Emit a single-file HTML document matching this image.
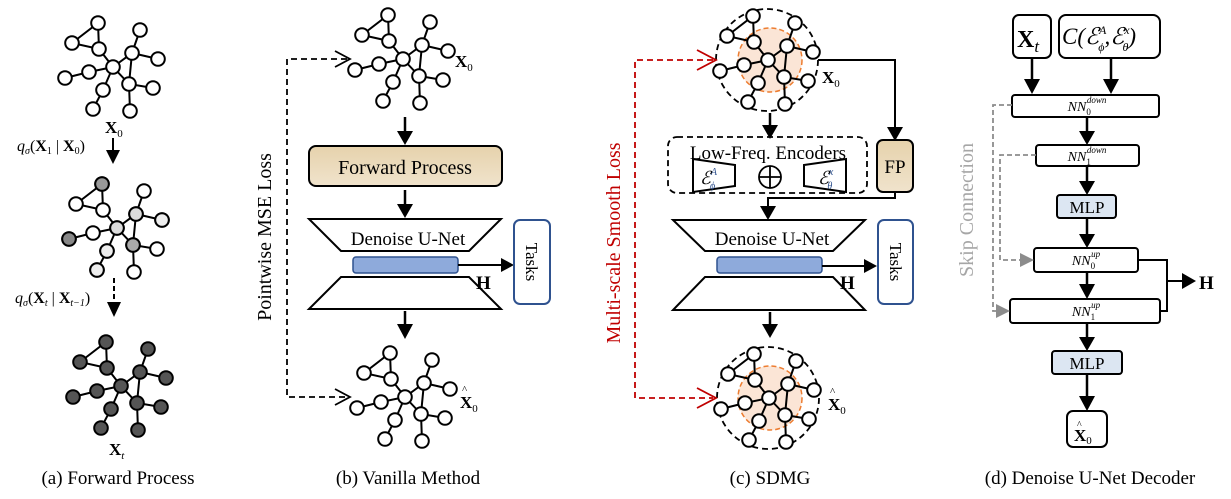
<!DOCTYPE html>
<html><head><meta charset="utf-8"><style>
html,body{margin:0;padding:0;background:#fff}
svg{display:block}
text{font-family:"Liberation Serif",serif;fill:#000}
</style></head><body>
<svg width="1231" height="499" viewBox="0 0 1231 499" xmlns="http://www.w3.org/2000/svg">
<defs>
<g id="gr" stroke="#000" stroke-width="2">
<path d="M-41,-24L-15,-44L-14,-18ZM-14,-18L0,0M-48,11L-24,5L0,0M0,0L-10,23L-20,42M0,0L19,-14L27,-37M19,-14L45,-8M19,-14L16,17M0,0L16,17L40,21M16,17L17,44" fill="none"/>
<circle cx="-15" cy="-44" r="6.8"/><circle cx="-41" cy="-24" r="6.8"/><circle cx="-14" cy="-18" r="6.8"/>
<circle cx="-24" cy="5" r="6.8"/><circle cx="-48" cy="11" r="6.8"/><circle cx="-10" cy="23" r="6.8"/>
<circle cx="-20" cy="42" r="6.8"/><circle cx="19" cy="-14" r="6.8"/><circle cx="27" cy="-37" r="6.8"/>
<circle cx="45" cy="-8" r="6.8"/><circle cx="16" cy="17" r="6.8"/><circle cx="40" cy="21" r="6.8"/>
<circle cx="17" cy="44" r="6.8"/><circle cx="0" cy="0" r="6.8"/>
</g>
<linearGradient id="tan" x1="0" y1="0" x2="0" y2="1"><stop offset="0" stop-color="#e6d2ac"/><stop offset="1" stop-color="#f0e3cc"/></linearGradient>
</defs>

<!-- Panel a -->
<use href="#gr" x="113" y="67" fill="#fff"/>
<g transform="translate(117,228)">
<use href="#gr" fill="#fff"/>
<g stroke="#000" stroke-width="2">
<circle cx="-15" cy="-44" r="6.8" fill="#999"/><circle cx="-48" cy="11" r="6.8" fill="#888"/>
<circle cx="16" cy="17" r="6.8" fill="#aaa"/><circle cx="19" cy="-14" r="6.8" fill="#ddd"/>
<circle cx="0" cy="0" r="6.8" fill="#ddd"/><circle cx="-10" cy="23" r="6.8" fill="#eee"/>
<circle cx="-20" cy="42" r="6.8" fill="#eee"/><circle cx="45" cy="-8" r="6.8" fill="#eee"/>
</g></g>
<use href="#gr" x="121" y="386" fill="#555"/>
<text x="105" y="133" font-size="17" font-weight="bold">X<tspan font-size="11" font-weight="normal" dy="4">0</tspan></text>
<text x="17" y="151" font-size="16"><tspan font-style="italic">q</tspan><tspan font-size="10" font-style="italic" dy="3">σ</tspan><tspan dy="-3">(</tspan><tspan font-weight="bold">X</tspan><tspan font-size="10" dy="3">1</tspan><tspan dy="-3"> | </tspan><tspan font-weight="bold">X</tspan><tspan font-size="10" dy="3">0</tspan><tspan dy="-3">)</tspan></text>
<line x1="113" y1="138" x2="113" y2="152" stroke="#000" stroke-width="2"/>
<path d="M106,150L120,150L113,164Z"/>
<text x="15" y="303" font-size="16"><tspan font-style="italic">q</tspan><tspan font-size="10" font-style="italic" dy="3">σ</tspan><tspan dy="-3">(</tspan><tspan font-weight="bold">X</tspan><tspan font-size="10" font-style="italic" dy="3">t</tspan><tspan dy="-3"> | </tspan><tspan font-weight="bold">X</tspan><tspan font-size="10" font-style="italic" dy="3">t−1</tspan><tspan dy="-3">)</tspan></text>
<line x1="114" y1="278" x2="114" y2="304" stroke="#000" stroke-width="2" stroke-dasharray="5,3"/>
<path d="M107,302L121,302L114,317Z"/>
<text x="109" y="455" font-size="17" font-weight="bold">X<tspan font-size="11" font-weight="normal" font-style="italic" dy="4">t</tspan></text>
<text x="118" y="484" font-size="19" text-anchor="middle">(a) Forward  Process</text>

<!-- Panel b -->
<use href="#gr" x="403" y="59" fill="#fff"/>
<use href="#gr" x="405" y="397" fill="#fff"/>
<text x="455" y="67" font-size="17" font-weight="bold">X<tspan font-size="11" font-weight="normal" dy="4">0</tspan></text>
<text x="460" y="408" font-size="17" font-weight="bold">X<tspan font-size="11" font-weight="normal" dy="4">0</tspan></text>
<text x="462" y="393" font-size="11">^</text>
<g stroke="#000" stroke-width="2.5">
<line x1="405" y1="117" x2="405" y2="132"/><line x1="405" y1="190" x2="405" y2="205"/><line x1="405" y1="311" x2="405" y2="325"/>
</g>
<path d="M397,131L413,131L405,145Z M397,204L413,204L405,218Z M397,324L413,324L405,339Z"/>
<rect x="309" y="146" width="193" height="40" rx="7" fill="url(#tan)" stroke="#000" stroke-width="2"/>
<text x="405" y="174" font-size="20" text-anchor="middle">Forward  Process</text>
<path d="M309,219L501,219L469,251L341,251Z M341,277L469,277L501,309L309,309Z" fill="#fff" stroke="#000" stroke-width="2"/>
<text x="408" y="245" font-size="19" text-anchor="middle">Denoise U-Net</text>
<rect x="353" y="257" width="105" height="16" rx="3" fill="#8eaadb" stroke="#2f528f" stroke-width="1.5"/>
<line x1="458" y1="265" x2="503" y2="265" stroke="#000" stroke-width="2"/>
<path d="M501,258L514,265L501,272Z"/>
<text x="476" y="289" font-size="19" font-weight="bold">H</text>
<rect x="514" y="220" width="36" height="84" rx="6" fill="#fff" stroke="#2f528f" stroke-width="2"/>
<text transform="translate(526,262) rotate(90)" font-size="17" text-anchor="middle">Tasks</text>
<path d="M347,59L287,59L287,397L347,397" fill="none" stroke="#000" stroke-width="1.8" stroke-dasharray="6,4"/>
<path d="M335,51L350,59L335,67 M335,389L350,397L335,405" fill="none" stroke="#000" stroke-width="1.8"/>
<text transform="translate(271,237) rotate(-90)" font-size="20" text-anchor="middle">Pointwise MSE Loss</text>
<text x="408" y="484" font-size="19" text-anchor="middle">(b) Vanilla Method</text>

<!-- Panel c -->
<circle cx="770" cy="60" r="32" fill="#fbe5d6" stroke="#ed7d31" stroke-width="1.5" stroke-dasharray="5,3"/>
<circle cx="767" cy="60" r="51" fill="none" stroke="#000" stroke-width="1.8" stroke-dasharray="6,4"/>
<use href="#gr" x="768" y="60" fill="#fff"/>
<circle cx="770" cy="398" r="32" fill="#fbe5d6" stroke="#ed7d31" stroke-width="1.5" stroke-dasharray="5,3"/>
<circle cx="768" cy="398" r="51" fill="none" stroke="#000" stroke-width="1.8" stroke-dasharray="6,4"/>
<use href="#gr" x="769" y="398" fill="#fff"/>
<text x="822" y="83" font-size="17" font-weight="bold">X<tspan font-size="11" font-weight="normal" dy="4">0</tspan></text>
<text x="828" y="410" font-size="17" font-weight="bold">X<tspan font-size="11" font-weight="normal" dy="4">0</tspan></text>
<text x="830" y="395" font-size="11">^</text>
<path d="M818,60L895,60L895,128" fill="none" stroke="#000" stroke-width="2"/>
<path d="M887,127L903,127L895,141Z"/>
<rect x="877" y="140" width="36" height="52" rx="6" fill="url(#tan)" stroke="#000" stroke-width="2"/>
<text x="895" y="173" font-size="19" text-anchor="middle">FP</text>
<line x1="770" y1="113" x2="770" y2="126" stroke="#000" stroke-width="2.5"/>
<path d="M762,125L778,125L770,139Z"/>
<rect x="668" y="137" width="199" height="56" rx="9" fill="none" stroke="#000" stroke-width="1.8" stroke-dasharray="6,4"/>
<text x="768" y="159" font-size="19" text-anchor="middle">Low-Freq. Encoders</text>
<path d="M693,159L735,165L735,186L693,192Z M804,165L846,159L846,192L804,186Z" fill="#fff" stroke="#000" stroke-width="2"/>
<text x="700" y="184" font-size="18" font-style="italic">ℰ<tspan font-size="10" dy="-9" fill="#2f528f">A</tspan><tspan font-size="10" dx="-7" dy="14" fill="#2f528f">ϕ</tspan></text>
<text x="818" y="184" font-size="18" font-style="italic">ℰ<tspan font-size="10" dy="-9" fill="#2f528f">x</tspan><tspan font-size="10" dx="-6" dy="14" fill="#2f528f">θ</tspan></text>
<circle cx="770" cy="177" r="11" fill="#fff" stroke="#000" stroke-width="1.8"/>
<path d="M759,177L781,177M770,166L770,188" stroke="#000" stroke-width="1.8"/>
<path d="M895,192L895,198L768,198L768,207" fill="none" stroke="#000" stroke-width="2"/>
<path d="M760,206L776,206L768,220Z"/>
<path d="M673,220L865,220L833,251L705,251Z M705,277L833,277L865,310L673,310Z" fill="#fff" stroke="#000" stroke-width="2"/>
<text x="772" y="245" font-size="19" text-anchor="middle">Denoise U-Net</text>
<rect x="717" y="257" width="105" height="16" rx="3" fill="#8eaadb" stroke="#2f528f" stroke-width="1.5"/>
<line x1="822" y1="266" x2="866" y2="266" stroke="#000" stroke-width="2"/>
<path d="M864,259L877,266L864,273Z"/>
<text x="840" y="289" font-size="19" font-weight="bold">H</text>
<rect x="878" y="220" width="35" height="84" rx="6" fill="#fff" stroke="#2f528f" stroke-width="2"/>
<text transform="translate(890,262) rotate(90)" font-size="17" text-anchor="middle">Tasks</text>
<line x1="770" y1="312" x2="770" y2="325" stroke="#000" stroke-width="2.5"/>
<path d="M762,324L778,324L770,338Z"/>
<path d="M713,60L635,60L635,398L713,398" fill="none" stroke="#c00000" stroke-width="1.8" stroke-dasharray="6,4"/>
<path d="M697,50L716,60L697,70 M697,388L716,398L697,408" fill="none" stroke="#c00000" stroke-width="1.8"/>
<text transform="translate(620,243) rotate(-90)" font-size="20" text-anchor="middle" style="fill:#c00000">Multi-scale Smooth Loss</text>
<text x="770" y="484" font-size="19" text-anchor="middle">(c) SDMG</text>

<!-- Panel d -->
<g fill="#fff" stroke="#000" stroke-width="2">
<rect x="1013" y="15" width="38" height="43" rx="6"/>
<rect x="1059" y="15" width="101" height="43" rx="7"/>
<rect x="1012" y="95" width="147" height="22" rx="3"/>
<rect x="1036" y="145" width="103" height="21" rx="3"/>
<rect x="1057" y="195" width="59" height="23" rx="3" fill="#dce6f2"/>
<rect x="1034" y="248" width="104" height="24" rx="3"/>
<rect x="1010" y="299" width="150" height="24" rx="3"/>
<rect x="1052" y="351" width="70" height="23" rx="3" fill="#dce6f2"/>
<rect x="1067" y="411" width="40" height="36" rx="6"/>
</g>
<text x="1017" y="47" font-size="24" font-weight="bold">X<tspan font-size="17" font-weight="normal" font-style="italic" dy="5">t</tspan></text>
<text x="1062" y="44" font-size="23" font-style="italic">C(ℰ<tspan font-size="12" dy="-10">A</tspan><tspan font-size="12" dx="-8" dy="17">ϕ</tspan><tspan dy="-7">,ℰ</tspan><tspan font-size="12" dy="-10">x</tspan><tspan font-size="12" dx="-7" dy="17">θ</tspan><tspan dy="-7">)</tspan></text>
<g stroke="#000" stroke-width="2.5">
<line x1="1032" y1="58" x2="1032" y2="80"/><line x1="1111" y1="58" x2="1111" y2="80"/>
<line x1="1087" y1="117" x2="1087" y2="132"/><line x1="1087" y1="166" x2="1087" y2="182"/>
<line x1="1087" y1="218" x2="1087" y2="235"/><line x1="1087" y1="272" x2="1087" y2="285"/>
<line x1="1087" y1="323" x2="1087" y2="338"/><line x1="1087" y1="374" x2="1087" y2="397"/>
</g>
<path d="M1024,79L1040,79L1032,94Z M1103,79L1119,79L1111,94Z M1079,131L1095,131L1087,145Z M1079,181L1095,181L1087,195Z M1079,234L1095,234L1087,248Z M1079,284L1095,284L1087,299Z M1079,337L1095,337L1087,351Z M1079,396L1095,396L1087,411Z"/>
<text x="1087" y="111" font-size="14" font-style="italic" text-anchor="middle">NN<tspan font-size="9" dy="4" font-style="normal">0</tspan><tspan font-size="9" dx="-4" dy="-12">down</tspan></text>
<text x="1087" y="161" font-size="14" font-style="italic" text-anchor="middle">NN<tspan font-size="9" dy="4" font-style="normal">1</tspan><tspan font-size="9" dx="-4" dy="-12">down</tspan></text>
<text x="1086" y="265" font-size="14" font-style="italic" text-anchor="middle">NN<tspan font-size="9" dy="4" font-style="normal">0</tspan><tspan font-size="9" dx="-4" dy="-12">up</tspan></text>
<text x="1086" y="316" font-size="14" font-style="italic" text-anchor="middle">NN<tspan font-size="9" dy="4" font-style="normal">1</tspan><tspan font-size="9" dx="-4" dy="-12">up</tspan></text>
<text x="1087" y="213" font-size="17" text-anchor="middle">MLP</text>
<text x="1087" y="369" font-size="17" text-anchor="middle">MLP</text>
<text x="1074" y="441" font-size="17" font-weight="bold">X<tspan font-size="11" font-weight="normal" dy="3">0</tspan></text>
<text x="1077" y="428" font-size="10">^</text>
<path d="M1138,260L1167,260L1167,311L1160,311M1167,281L1184,281" fill="none" stroke="#000" stroke-width="2"/>
<path d="M1182,273L1196,281L1182,289Z"/>
<text x="1199" y="289" font-size="19" font-weight="bold">H</text>
<path d="M1012,105L993,105L993,311L1000,311 M1036,155L1000,155L1000,260L1024,260" fill="none" stroke="#8c8c8c" stroke-width="1.8" stroke-dasharray="5,3"/>
<path d="M996,304L1010,311L996,318Z M1020,253L1034,260L1020,267Z" fill="#8c8c8c"/>
<text transform="translate(973,210) rotate(-90)" font-size="20" text-anchor="middle" style="fill:#a6a6a6">Skip Connection</text>
<text x="1090" y="484" font-size="19" text-anchor="middle">(d) Denoise U-Net Decoder</text>
</svg>
</body></html>
